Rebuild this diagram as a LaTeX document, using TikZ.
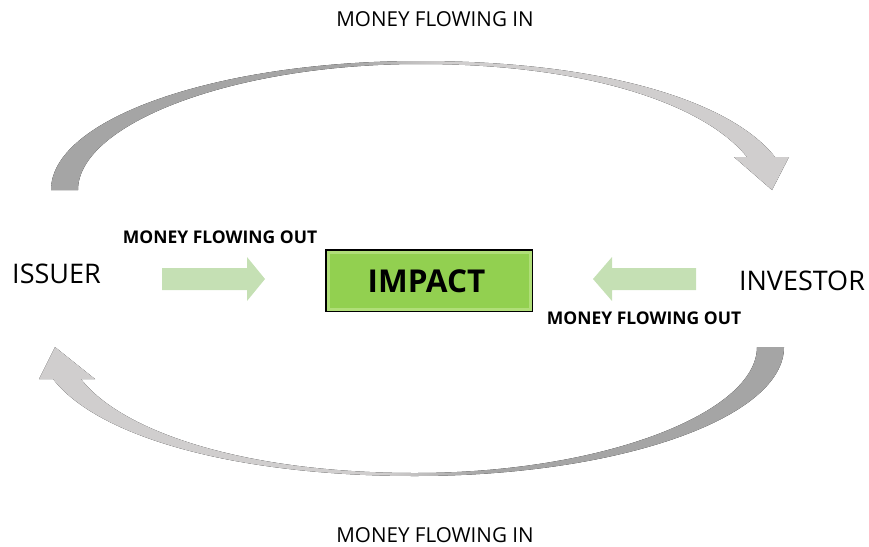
\documentclass[tikz,border=0pt]{standalone}
\usepackage{fontspec}
\setmainfont{Open Sans}

\definecolor{bandDark}{RGB}{165,165,165}
\definecolor{bandLight}{RGB}{208,206,206}
\definecolor{flowGreen}{RGB}{197,224,180}
\definecolor{impactGreen}{RGB}{146,208,80}
\definecolor{impactEdge}{RGB}{176,222,120}

% grey band: dark on one side, light on the other
\pgfdeclarehorizontalshading{loopshade}{100bp}{color(0bp)=(bandDark); color(45bp)=(bandDark); color(52bp)=(bandLight); color(100bp)=(bandLight)}

\begin{document}
\begin{tikzpicture}[x=1pt, y=-1pt,
	flowlabel/.style={font=\fontsize{20.6}{23}\selectfont, inner sep=0pt, anchor=base},
	party/.style={font=\fontsize{27}{30}\selectfont, inner sep=0pt, anchor=base},
	outlabel/.style={font=\bfseries\fontsize{17.5}{20}\selectfont, inner sep=0pt, anchor=base},
	loopband/.style={shading=loopshade, draw=none},
	greenarrow/.style={fill=flowGreen, draw=none},
	impactbox/.style={rectangle, draw=black, line width=2pt, fill=impactGreen, minimum width=206pt, minimum height=61pt, inner sep=0pt},
	impacttext/.style={font=\bfseries\fontsize{31.5}{36}\selectfont, inner sep=0pt, anchor=base}]

	\useasboundingbox (0,0) rectangle (869,546);

	% parties
	\node[party] (issuer) at (56.5,283) {ISSUER};
	\node[party] (investor) at (802,290) {INVESTOR};

	% upper loop, issuer to investor
	\fill[loopband] (51,190) .. controls (51,119) and (216,61) .. (420,61)
		.. controls (600,61) and (730,100) .. (775,157)
		-- (789,157) -- (772,190) -- (734,157) -- (747,157)
		.. controls (705,105) and (590,64) .. (420,64)
		.. controls (230,64) and (78,125) .. (78,190) -- cycle;

	% lower loop, investor back to issuer
	\fill[loopband, shading angle=180] (784,347) .. controls (784,418) and (619,476) .. (415,476)
		.. controls (235,476) and (98,437) .. (53,379)
		-- (39,379) -- (55,347) -- (95,379) -- (81,379)
		.. controls (122,432) and (245,473) .. (415,473)
		.. controls (605,473) and (757,412) .. (757,347) -- cycle;

	\node[flowlabel] (intop) at (435,27) {MONEY FLOWING IN};
	\node[flowlabel] (inbottom) at (435,542) {MONEY FLOWING IN};

	% green arrows into the impact box
	\fill[greenarrow] (162,268) -- (247,268) -- (247,257) -- (265,279)
		-- (247,301) -- (247,290) -- (162,290) -- cycle;
	\fill[greenarrow] (696,268) -- (612,268) -- (612,257) -- (593,279)
		-- (612,301) -- (612,290) -- (696,290) -- cycle;

	\node[outlabel] (outleft) at (220,243) {MONEY FLOWING OUT};
	\node[outlabel] (outright) at (644,324) {MONEY FLOWING OUT};

	% impact box with a soft lighter rim
	\node[impactbox] (impact) at (429,280.5) {};
	\draw[impactEdge, line width=3pt] ([shift={(3pt,3pt)}]impact.south west) rectangle ([shift={(-3pt,-3pt)}]impact.north east);
	\node[impacttext] (impactlabel) at (426.5,292) {IMPACT};

\end{tikzpicture}
\end{document}
